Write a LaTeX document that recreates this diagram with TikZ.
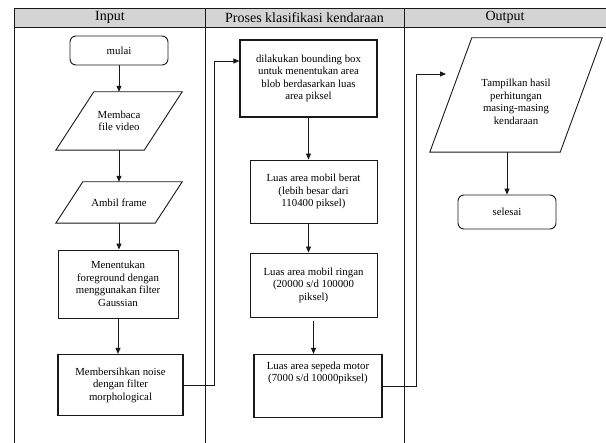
\documentclass[tikz,border=0pt]{standalone}
\usepackage{fontspec}
\setmainfont{Liberation Serif}
\usetikzlibrary{arrows.meta,calc}
\newcommand{\paral}[2]{\draw[ln] (#1.south west) -- ([xshift=-#2]#1.south east) -- (#1.north east) -- ([xshift=#2]#1.north west) -- cycle;}
\begin{document}
\begin{tikzpicture}[x=1pt,y=-1pt,
  ln/.style={draw=black!90, line width=0.9pt},
  arr/.style={ln, -{Triangle[length=6pt,width=5pt]}},
  txtf/.style={font=\fontsize{10.8}{12.5}\selectfont},
  proc/.style={draw=black!90, line width=0.9pt, align=center, inner sep=2pt, txtf},
  procb/.style={proc, line width=1.15pt},
  term/.style={proc, rounded corners=6pt},
  io/.style={align=center, inner sep=0pt, txtf},
  head/.style={font=\fontsize{14}{16}\selectfont}
]
\useasboundingbox (0,0) rectangle (606,443);
\clip (0,0) rectangle (606,443);
% header and columns
\fill[black!17] (14,8) rectangle (612,27);
\draw[ln] (14,8) -- (612,8);
\draw[ln] (14,27) -- (612,27);
\draw[ln] (14,8) -- (14,450);
\draw[ln] (205,8) -- (205,450);
\draw[ln] (404,8) -- (404,450);
\node[head] (hin) at (110,17.5) {Input};
\node[head] (hpro) at (304.5,17.5) {Proses klasifikasi kendaraan};
\node[head] (hout) at (505,17.5) {Output};
% column 1
\node[term, minimum width=98pt, minimum height=29pt] (mulai) at (119,50.5) {mulai};
\node[io, minimum width=126pt, minimum height=58pt] (baca) at (119,121) {Membaca\\file video};
\paral{baca}{38pt}
\node[io, minimum width=126pt, minimum height=41pt] (ambil) at (119,202.5) {Ambil frame};
\paral{ambil}{27pt}
\node[proc, minimum width=120pt, minimum height=68pt] (tentu) at (118,284) {Menentukan\\foreground dengan\\menggunakan filter\\Gaussian};
\node[procb, minimum width=125pt, minimum height=61pt] (bersih) at (120.5,385) {Membersihkan noise\\dengan filter\\morphological};
% column 2
\node[procb, minimum width=137pt, minimum height=77pt] (bbox) at (308.5,78.5) {dilakukan bounding box\\untuk menentukan area\\blob berdasarkan luas\\area piksel};
\node[proc, minimum width=127pt, minimum height=63pt] (berat) at (313.5,191.5) {Luas area mobil berat\\(lebih besar dari\\110400 piksel)};
\node[proc, minimum width=127pt, minimum height=64pt] (ringan) at (313.5,285) {Luas area mobil ringan\\(20000 s/d 100000\\piksel)};
\node[procb, minimum width=128pt, minimum height=63pt] (motor) at (318,386) {Luas area sepeda motor\\(7000 s/d 10000piksel)\\ \strut\\ \strut};
% column 3
\node[io, minimum width=172pt, minimum height=114pt] (tamp) at (516,95) {\strut\\Tampilkan hasil\\perhitungan\\masing-masing\\kendaraan};
\paral{tamp}{42pt}
\node[term, minimum width=98pt, minimum height=34pt] (selesai) at (507,212) {selesai};
% connectors
\coordinate (k1) at (214.5,61);
\coordinate (k2) at (416,74);
\coordinate (k3) at (446,74);
\draw[arr] (mulai.south) -- (baca.north);
\draw[arr] (baca.south) -- (ambil.north);
\draw[arr] (ambil.south) -- (ambil.south |- tentu.north);
\draw[arr] (tentu.south) -- (tentu.south |- bersih.north);
\draw[arr] (bersih.east) -| (k1) -- (k1 -| bbox.west);
\draw[arr] (bbox.south) -- (bbox.south |- berat.north);
\draw[arr] (bbox.south |- berat.south) -- (bbox.south |- ringan.north);
\draw[arr] ([yshift=-4pt]ringan.south) -- (ringan.south |- motor.north);
\draw[arr] (motor.east) -| (k2) -- (k3);
\draw[arr] (tamp.south -| selesai.north) -- (selesai.north);
\end{tikzpicture}
\end{document}
